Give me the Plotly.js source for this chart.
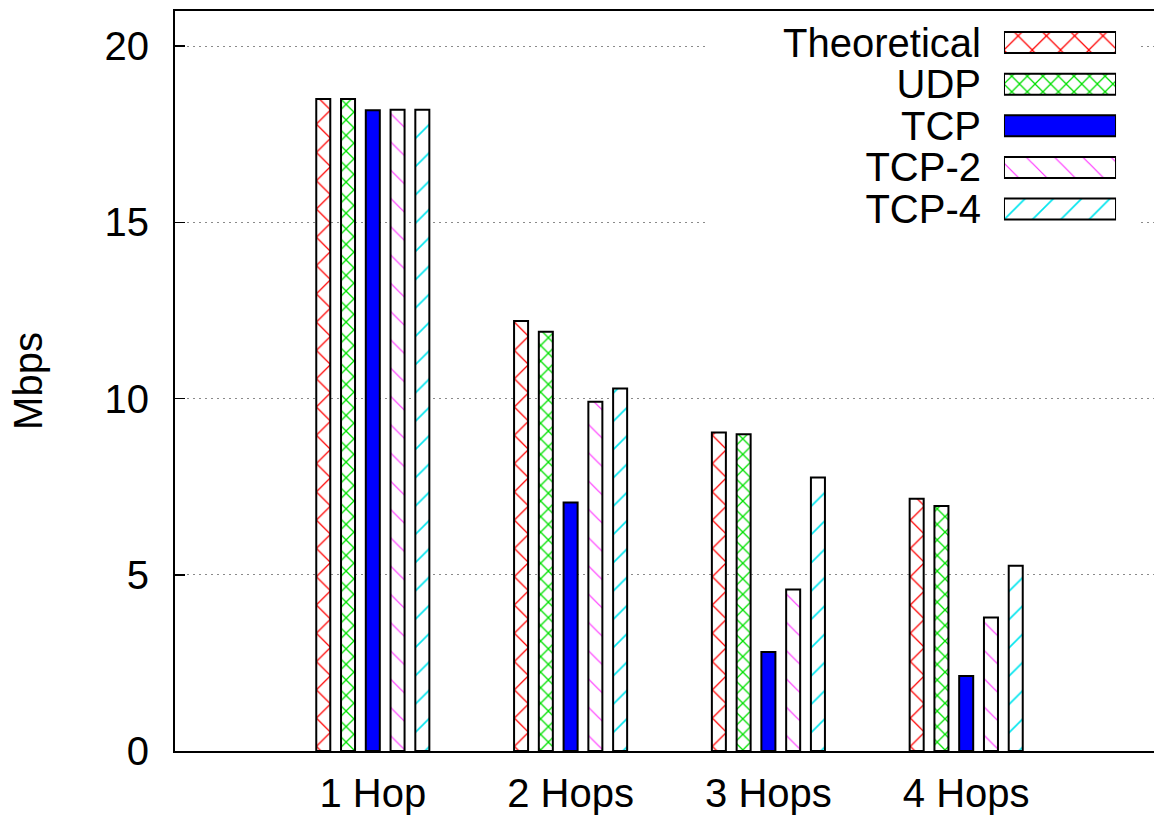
<!DOCTYPE html>
<html>
<head>
<meta charset="utf-8">
<script src="https://cdn.plot.ly/plotly-3.0.1.min.js"></script>
<style>
  html, body { margin: 0; padding: 0; overflow: hidden; background: #fff; }
  #chart { width: 1164px; height: 815px; }
</style>
</head>
<body>
<div id="chart"></div>
<script>
// ---- data ----
const categories = ['1 Hop', '2 Hops', '3 Hops', '4 Hops'];
const seriesNames = ['Theoretical', 'UDP', 'TCP', 'TCP-2', 'TCP-4'];
const theoretical = [18.5, 12.2, 9.04, 7.16];
const udp = [18.5, 11.9, 8.99, 6.95];
const tcp = [18.18, 7.05, 2.81, 2.13];
const tcp2 = [18.2, 9.91, 4.58, 3.79];
const tcp4 = [18.2, 10.29, 7.76, 5.26];
const yTicks = [0, 5, 10, 15, 20];

// ---- styles ----
const FONT = 'Liberation Sans, Arial, Helvetica, sans-serif';
const styles = {
  'Theoretical': {bg: '#ffffff', fg: '#ff0000', shape: 'x', size: 20, solidity: 0.12},
  'UDP':         {bg: '#ffffff', fg: '#00e000', shape: 'x', size: 11, solidity: 0.22},
  'TCP':         {bg: '#0000ff', fg: '#0000ff', shape: '', size: 8, solidity: 0.3},
  'TCP-2':       {bg: '#ffffff', fg: '#ff33ff', shape: '\\', size: 20, solidity: 0.06},
  'TCP-4':       {bg: '#ffffff', fg: '#00e5ee', shape: '/', size: 20, solidity: 0.08}
};
const seriesValues = [theoretical, udp, tcp, tcp2, tcp4];

function markerFor(name) {
  const s = styles[name];
  return {
    color: s.bg,
    line: {color: '#000', width: 2},
    pattern: {shape: s.shape, fgcolor: s.fg, bgcolor: s.bg, size: s.size, solidity: s.solidity, fillmode: 'replace'}
  };
}

const traces = seriesNames.map((name, i) => ({
  type: 'bar',
  name: name,
  x: categories,
  y: seriesValues[i],
  xaxis: 'x', yaxis: 'y',
  marker: markerFor(name),
  showlegend: false,
  hoverinfo: 'x+y+name'
}));

// legend drawn as a small horizontal bar subplot (swatches right of right-aligned names)
seriesNames.forEach(name => {
  traces.push({
    type: 'bar',
    orientation: 'h',
    x: [1],
    y: [name],
    xaxis: 'x2', yaxis: 'y2',
    width: 0.505,
    offset: -0.2525,
    base: 0,
    marker: markerFor(name),
    showlegend: false,
    hoverinfo: 'skip'
  });
});

const layout = {
  width: 1164, height: 815,
  margin: {l: 175, r: 0, t: 11, b: 64},
  paper_bgcolor: '#fff', plot_bgcolor: '#fff',
  font: {family: FONT, color: '#000', size: 40},
  showlegend: false,
  barmode: 'group',
  bargap: 0.374,
  bargroupgap: 0.434,
  xaxis: {
    type: 'category',
    range: [-1, 4],
    showline: true, mirror: true, linecolor: '#000', linewidth: 2,
    ticks: '', showgrid: false, zeroline: false,
    tickfont: {family: FONT, size: 40, color: '#000'},
    ticklabelstandoff: 6,
    fixedrange: true
  },
  yaxis: {
    range: [0, 21],
    tickvals: yTicks,
    ticktext: yTicks.map(String),
    showline: true, mirror: true, linecolor: '#000', linewidth: 2,
    ticks: 'inside', ticklen: 10, tickwidth: 1.5, tickcolor: '#000',
    showgrid: true, gridcolor: '#8a8a8a', gridwidth: 1, griddash: '2px,4px',
    zeroline: false,
    tickfont: {family: FONT, size: 40, color: '#000'},
    ticklabelstandoff: 16,
    title: {text: 'Mbps', font: {family: FONT, size: 40, color: '#000'}, standoff: 50},
    automargin: false,
    fixedrange: true
  },
  xaxis2: {
    domain: [0.8382, 0.9515], anchor: 'y2', range: [0, 1],
    visible: false, fixedrange: true
  },
  yaxis2: {
    domain: [0.7043, 0.9855], anchor: 'x2', type: 'category',
    categoryorder: 'array', categoryarray: seriesNames,
    tickmode: 'array', tickvals: seriesNames, ticktext: seriesNames,
    autorange: 'reversed',
    showline: false, showgrid: false, zeroline: false, ticks: '',
    tickfont: {family: FONT, size: 40, color: '#000'},
    ticklabelstandoff: 22,
    automargin: false,
    fixedrange: true
  },
  shapes: [{
    type: 'rect', xref: 'x', yref: 'y', layer: 'between',
    x0: 1.68, x1: 3.88, y0: 14.75, y1: 20.7,
    fillcolor: '#ffffff', line: {width: 0}
  }]
};

Plotly.newPlot('chart', traces, layout, {displayModeBar: false, staticPlot: true});
</script>
</body>
</html>
